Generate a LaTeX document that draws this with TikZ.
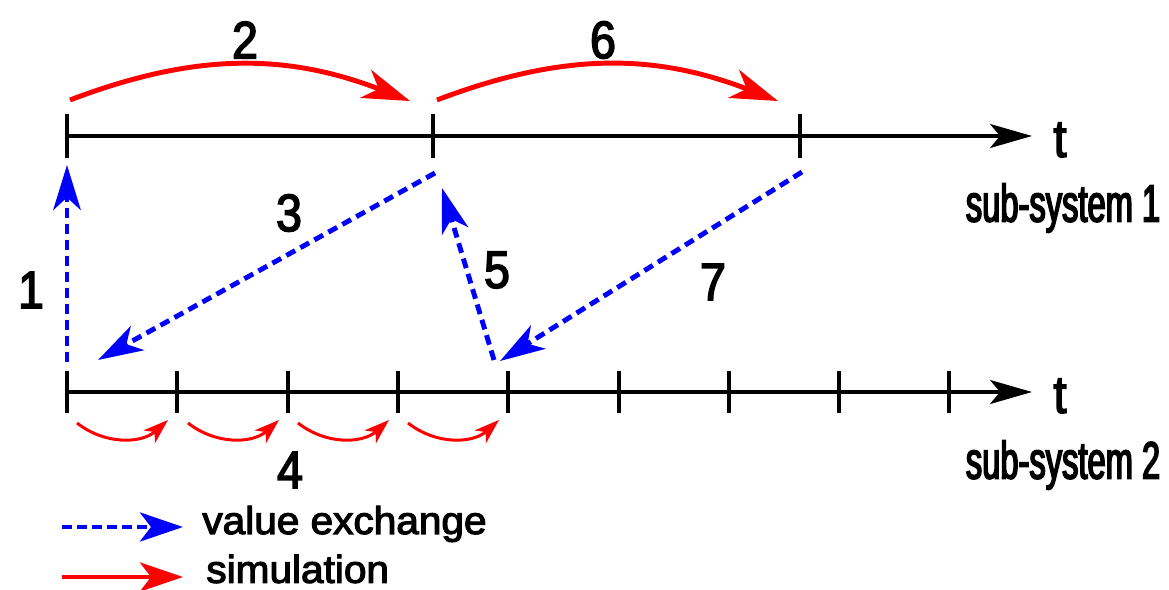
\documentclass[tikz,border=0pt]{standalone}
\usepackage{fontspec}
\setmainfont{Liberation Sans}
\newfontfamily\numfont{Liberation Sans}[FakeStretch=0.88,FakeBold=3]
\newfontfamily\subfont{Liberation Sans}[FakeStretch=0.62,FakeBold=3]
\newfontfamily\legfont{Liberation Sans}[FakeStretch=1.05,FakeBold=3]
\usetikzlibrary{arrows.meta}
\begin{document}
\begin{tikzpicture}[x=0.02cm,y=-0.02cm,
  axis/.style={line width=1.9pt,-{Stealth[length=0.84cm,width=0.48cm,inset=0.2cm]}},
  tickline/.style={line width=1.9pt},
  sim/.style={red,line width=2.8pt,-{Stealth[length=0.95cm,width=0.6cm,inset=0.28cm]}},
  simsmall/.style={red,line width=1.7pt,-{Stealth[length=0.5cm,width=0.34cm,inset=0.14cm]}},
  xch/.style={blue,line width=2.8pt,dash pattern=on 0.2cm off 0.12cm,-{Stealth[length=0.9cm,width=0.55cm,inset=0.25cm]}},
  num/.style={font=\numfont\fontsize{30}{34}\selectfont,inner sep=0pt},
  sub/.style={font=\subfont\fontsize{30}{34}\selectfont,inner sep=0pt},
  leg/.style={font=\legfont\fontsize{22}{26}\selectfont,inner sep=0pt,anchor=west},
]
\useasboundingbox (0,0) rectangle (1169,590);
% timeline 1
\coordinate (o1) at (67,136);
\coordinate (e1) at (1032,136);
\draw[axis] (o1) -- (e1);
\foreach \x/\n in {67/a,433/b,800/c}{
  \coordinate (t1\n) at (\x,136);
  \draw[tickline] ([yshift=0.44cm]t1\n) -- ([yshift=-0.44cm]t1\n);
}
\node[num] (tA) at (1060,140) {t};
\node[sub] (s1) at (1063,208) {sub-system 1};
% timeline 2
\coordinate (o2) at (67,392);
\coordinate (e2) at (1032,392);
\draw[axis] (o2) -- (e2);
\foreach \x/\n in {67/a,177/b,288/c,398/d,508/e,619/f,729/g,839/h,949/i}{
  \coordinate (t2\n) at (\x,392);
  \draw[tickline] ([yshift=0.42cm]t2\n) -- ([yshift=-0.42cm]t2\n);
}
\node[num] (tB) at (1060,396) {t};
\node[sub] (s2) at (1063,465) {sub-system 2};
% simulation arcs top
\coordinate (p1) at (70,100);
\coordinate (p2) at (410,101);
\coordinate (p3) at (437,100);
\coordinate (p4) at (778,101);
\draw[sim] (p1) to[bend left=21] (p2);
\draw[sim] (p3) to[bend left=21] (p4);
\node[num] (n2) at (245,40) {2};
\node[num] (n6) at (603,40) {6};
% small arcs
\foreach \x [count=\i] in {77,188,298,408}{
  \coordinate (q\i a) at (\x,423);
  \coordinate (q\i b) at (\x+91,420);
  \draw[simsmall] (q\i a) to[bend right=40] (q\i b);
}
\node[num] (n4) at (290,470) {4};
% value exchange
\coordinate (v1a) at (67,362);
\coordinate (v1b) at (67,165);
\draw[xch] (v1a) -- (v1b);
\node[num] (n1) at (31,290) {1};
\coordinate (v3a) at (435,173);
\coordinate (v3b) at (98,360);
\draw[xch] (v3a) -- (v3b);
\node[num] (n3) at (289,213) {3};
\coordinate (v5a) at (494,360);
\coordinate (v5b) at (442,188);
\draw[xch] (v5a) -- (v5b);
\node[num] (n5) at (497,270) {5};
\coordinate (v7a) at (802,172);
\coordinate (v7b) at (500,361);
\draw[xch] (v7a) -- (v7b);
\node[num] (n7) at (713,282) {7};
% legend
\coordinate (l1a) at (62,527);
\coordinate (l1b) at (183,527);
\draw[xch,-{Stealth[length=0.86cm,width=0.58cm,inset=0.22cm]},dash pattern=on 0.2cm off 0.1cm] (l1a) -- (l1b);
\node[leg] (lt1) at (202,524) {value exchange};
\coordinate (l2a) at (62,577);
\coordinate (l2b) at (183,577);
\draw[sim,-{Stealth[length=0.86cm,width=0.58cm,inset=0.22cm]}] (l2a) -- (l2b);
\node[leg] (lt2) at (206,569) {simulation};
\end{tikzpicture}
\end{document}
